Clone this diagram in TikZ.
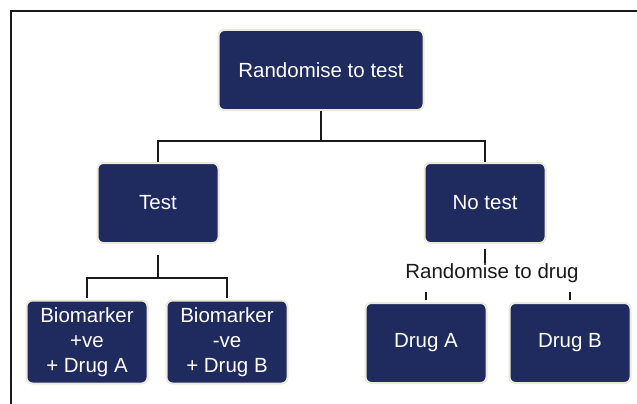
\documentclass[tikz,border=0pt]{standalone}
\usepackage{fontspec}
\setmainfont{Liberation Sans}
\usetikzlibrary{calc,positioning}
\definecolor{navy}{HTML}{1F2A5E}
\definecolor{rim}{HTML}{ECE9DA}
\definecolor{ink}{HTML}{1A1A1A}
\tikzset{
box/.style={rectangle, rounded corners=6pt, fill=navy, draw=rim, line width=2pt,
  text=white, align=center, minimum width=121pt, minimum height=80pt,
  font=\fontsize{20.5}{25}\selectfont},
link/.style={draw=ink, line width=2pt},
}

\begin{document}
\begin{tikzpicture}[x=1pt,y=-1pt,on grid]
   \useasboundingbox (0,0) rectangle (637,404);
   \draw[ink, line width=2.6pt] (11,404) -- (11,11) -- (637,11);
   \node[box, minimum width=205pt] (root) at (321,70) {Randomise to test};
   \node[box] (test) [below left=133pt and 163pt of root] {Test};
   \node[box] (notest) [below right=133pt and 164pt of root] {No test};
   \node[box, minimum height=83pt] (bpos) [below left=139pt and 71pt of test] {Biomarker\\+ve\\+ Drug A};
   \node[box, minimum height=83pt] (bneg) [below right=139pt and 69pt of test] {Biomarker\\-ve\\+ Drug B};
   \node[box] (druga) [below left=140pt and 59pt of notest] {Drug A};
   \node[box] (drugb) [below right=140pt and 85pt of notest] {Drug B};
   \node[inner sep=0pt, text=ink, font=\fontsize{20.5}{25}\selectfont] (rdrug)
      [below right=70pt and 7pt of notest] {Randomise to drug};
   \coordinate (split1) at ($(root.south)+(0,30)$);
   \coordinate (split2) at ($(test.south)+(0,34)$);
   % test / no test
   \draw[link] (root.south) -- (split1) -| (test.north);
   \draw[link] (split1) -| (notest.north);
   % biomarker arm
   \draw[link, shorten <=11pt] (test.south) -- (split2);
   \draw[link, shorten >=2pt] (split2) -| (bpos.north);
   \draw[link, shorten >=2pt] (split2) -| (bneg.north);
   % randomised arm
   \draw[link, shorten <=5pt] (notest.south) -- (notest.south |- rdrug.north);
   \draw[link, shorten <=9pt, shorten >=2pt] (druga.north |- rdrug.south) -- (druga.north);
   \draw[link, shorten <=9pt, shorten >=2pt] (drugb.north |- rdrug.south) -- (drugb.north);
\end{tikzpicture}
\end{document}
